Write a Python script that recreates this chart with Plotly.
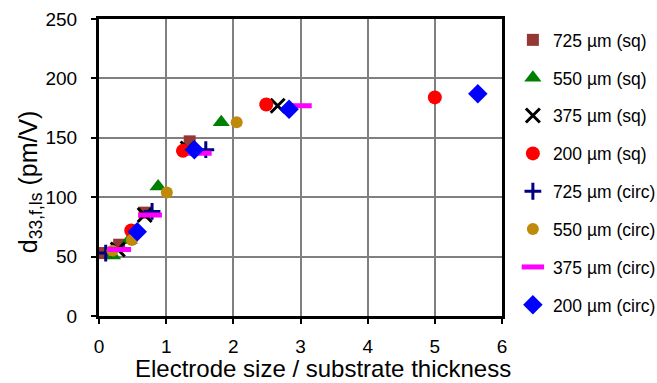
import plotly.graph_objects as go

names = ["725 µm (sq)", "550 µm (sq)", "375 µm (sq)", "200 µm (sq)",
         "725 µm (circ)", "550 µm (circ)", "375 µm (circ)", "200 µm (circ)"]

x_725_sq = [0.08, 0.30, 0.68, 1.35]
y_725_sq = [53, 60, 87, 147]
x_550_sq = [0.20, 0.45, 0.88, 1.82]
y_550_sq = [51, 64, 109, 163]
x_375_sq = [0.28, 0.68, 1.32, 2.66]
y_375_sq = [56, 85, 141, 177]
x_200_sq = [0.48, 1.25, 2.49, 5.00]
y_200_sq = [72, 139, 178, 184]
x_725_circ = [0.10, 0.79, 1.59]
y_725_circ = [53, 88, 140]
x_550_circ = [0.20, 0.49, 1.01, 2.05]
y_550_circ = [55, 64, 104, 163]
x_375_circ = [0.30, 0.76, 1.50, 2.99]
y_375_circ = [56, 85, 137, 177]
x_200_circ = [0.57, 1.42, 2.83, 5.64]
y_200_circ = [71, 140, 174, 187]

x_title = "Electrode size / substrate thickness"
y_title = "d<sub>33,f,ls</sub> (pm/V)"

xs = [x_725_sq, x_550_sq, x_375_sq, x_200_sq, x_725_circ, x_550_circ, x_375_circ, x_200_circ]
ys = [y_725_sq, y_550_sq, y_375_sq, y_200_sq, y_725_circ, y_550_circ, y_375_circ, y_200_circ]

styles = [
    dict(symbol="square", size=12, color="#953735"),
    dict(symbol="triangle-up", size=15, color="#008000"),
    dict(symbol="x-thin-open", size=14, color="#000000", line=dict(width=3, color="#000000")),
    dict(symbol="circle", size=14, color="#FF0000"),
    dict(symbol="cross-thin-open", size=12, color="#000080", line=dict(width=3, color="#000080")),
    dict(symbol="circle", size=12, color="#BF8A0A"),
    dict(symbol="line-ew-open", size=17, color="#FF00FF", line=dict(width=5, color="#FF00FF")),
    dict(symbol="diamond", size=15, color="#0000FF"),
]

FONT = "Liberation Sans, Arial, sans-serif"

fig = go.Figure()
for i, (n, x, y, s) in enumerate(zip(names, xs, ys, styles)):
    m = dict(symbol=s["symbol"], size=s["size"], color=s["color"])
    if "line" in s:
        m["line"] = s["line"]
    else:
        m["line"] = dict(width=0)
    fig.add_trace(go.Scatter(x=x, y=y, mode="markers", name=n, marker=m,
                             legendgroup=f"g{i}"))

fig.update_layout(
    width=657, height=383,
    margin=dict(l=99, r=155, t=19, b=67, autoexpand=False),
    paper_bgcolor="white", plot_bgcolor="white",
    font=dict(family=FONT, size=19, color="#000000"),
    showlegend=True,
    legend=dict(x=1.027, y=0.99, xanchor="left", yanchor="top",
                font=dict(family=FONT, size=17.5, color="#000000"),
                tracegroupgap=12.1, itemwidth=30, bgcolor="rgba(0,0,0,0)",
                maxheight=383),
    xaxis=dict(range=[0, 6], dtick=1, showgrid=True, gridcolor="#808080", gridwidth=1.5,
               showline=True, linecolor="#000000", linewidth=3, mirror=True,
               ticks="outside", ticklen=5, tickcolor="#000000", tickwidth=1.5,
               zeroline=False, tickfont=dict(size=19), ticklabelstandoff=6,
               automargin=False),
    yaxis=dict(range=[0, 250], dtick=50, showgrid=True, gridcolor="#808080", gridwidth=1.5,
               showline=True, linecolor="#000000", linewidth=3, mirror=True,
               ticks="outside", ticklen=5, tickcolor="#000000", tickwidth=1.5,
               zeroline=False, tickfont=dict(size=19), ticklabelstandoff=10,
               automargin=False),
    annotations=[
        dict(text=x_title, xref="paper", yref="paper", x=0.556, y=-0.178,
             xanchor="center", yanchor="middle", showarrow=False,
             font=dict(family=FONT, size=24, color="#000000")),
        dict(text=y_title, xref="paper", yref="paper", x=-0.171, y=0.451,
             xanchor="center", yanchor="middle", showarrow=False, textangle=-90,
             font=dict(family=FONT, size=25, color="#000000")),
    ],
)

fig.write_html("out.html")
